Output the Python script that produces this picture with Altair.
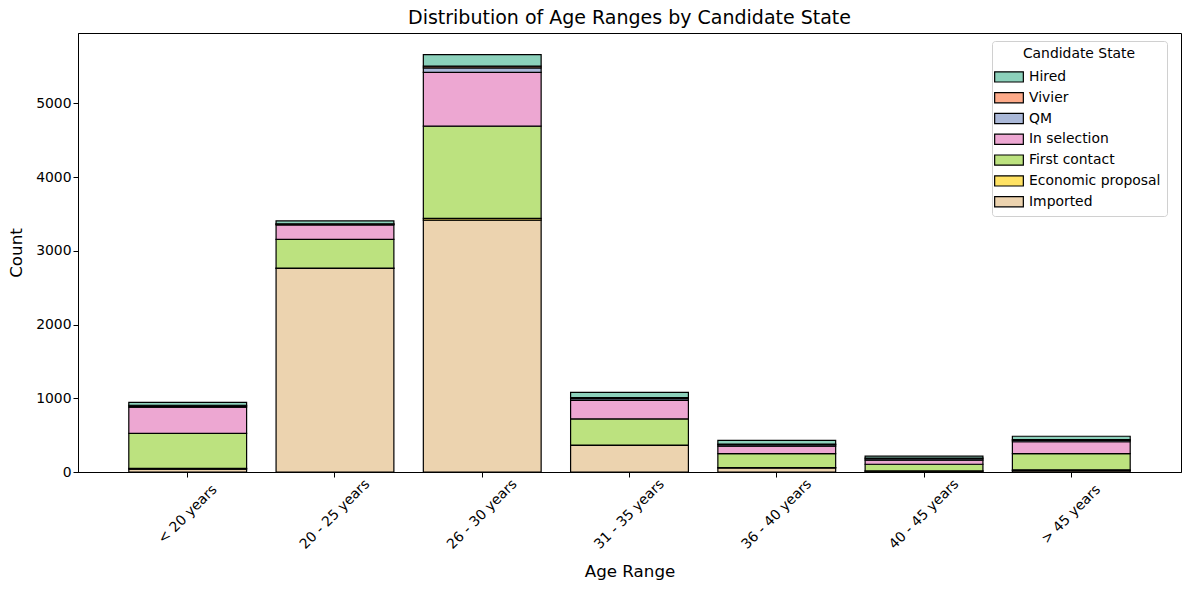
import altair as alt
import pandas as pd

categories = ["< 20 years", "20 - 25 years", "26 - 30 years", "31 - 35 years",
              "36 - 40 years", "40 - 45 years", "> 45 years"]
# stacking order: bottom -> top
states = ["Imported", "Economic proposal", "First contact", "In selection", "QM", "Vivier", "Hired"]
imported = [40, 2760, 3415, 360, 55, 10, 20]
economic_proposal = [10, 5, 25, 5, 5, 5, 10]
first_contact = [475, 390, 1250, 355, 190, 90, 220]
in_selection = [355, 195, 730, 250, 100, 55, 160]
qm = [15, 10, 60, 25, 20, 20, 20]
vivier = [10, 5, 25, 15, 10, 10, 10]
hired = [40, 40, 155, 70, 50, 25, 45]

series = [imported, economic_proposal, first_contact, in_selection, qm, vivier, hired]
legend_order = ["Hired", "Vivier", "QM", "In selection", "First contact", "Economic proposal", "Imported"]
legend_colors = ["#8cd1bb", "#fdaa89", "#aab8d8", "#eda7d2", "#bce27f", "#ffe263", "#ecd3af"]

rows = []
for si, (st, vals) in enumerate(zip(states, series)):
    for c, v in zip(categories, vals):
        rows.append({"Age Range": c, "Candidate State": st, "Count": v, "order": si})
df = pd.DataFrame(rows)

FONT = "DejaVu Sans"

chart = alt.Chart(df).mark_bar(stroke="black", strokeWidth=1.2).encode(
    x=alt.X("Age Range:N", sort=categories,
            scale=alt.Scale(paddingInner=0.2, paddingOuter=0.345),
            axis=alt.Axis(title="Age Range", labelAngle=315, labelAlign="center",
                          labelBaseline="middle", labelPadding=37, titlePadding=12)),
    y=alt.Y("Count:Q", stack="zero",
            scale=alt.Scale(domain=[0, 5953], nice=False),
            axis=alt.Axis(title="Count", values=[0, 1000, 2000, 3000, 4000, 5000],
                          format="d", grid=False, titlePadding=10)),
    color=alt.Color("Candidate State:N",
                    scale=alt.Scale(domain=legend_order, range=legend_colors),
                    legend=alt.Legend(title="Candidate State", orient="none",
                                      legendX=914, legendY=8,
                                      symbolType="M-1.4,-0.5L1.4,-0.5L1.4,0.5L-1.4,0.5Z",
                                      symbolSize=420, symbolStrokeColor="black",
                                      symbolStrokeWidth=1.2, symbolOpacity=1,
                                      labelOffset=9, rowPadding=1.8,
                                      padding=6, fillColor="white", strokeColor="#d0d0d0",
                                      cornerRadius=3, titleAnchor="middle",
                                      titleFontWeight="normal", titleFontSize=13.9,
                                      labelFontSize=13.9, titlePadding=5)),
    order=alt.Order("order:Q", sort="ascending"),
).properties(
    width=1103, height=439,
    title=alt.TitleParams("Distribution of Age Ranges by Candidate State",
                          fontSize=19, fontWeight="normal", font=FONT, offset=5),
    padding={"left": 8, "top": 9, "right": 8, "bottom": 5},
).configure_axis(
    labelFont=FONT, titleFont=FONT, labelFontSize=13.9, titleFontSize=16.7,
    titleFontWeight="normal", labelColor="black", titleColor="black",
    domainColor="black", tickColor="black", tickSize=5, domainWidth=1,
).configure_legend(
    labelFont=FONT, titleFont=FONT, labelColor="black", titleColor="black",
).configure_view(
    stroke="black", strokeWidth=1,
)

chart.save("out.html", embed_options={"renderer": "svg", "actions": False})
